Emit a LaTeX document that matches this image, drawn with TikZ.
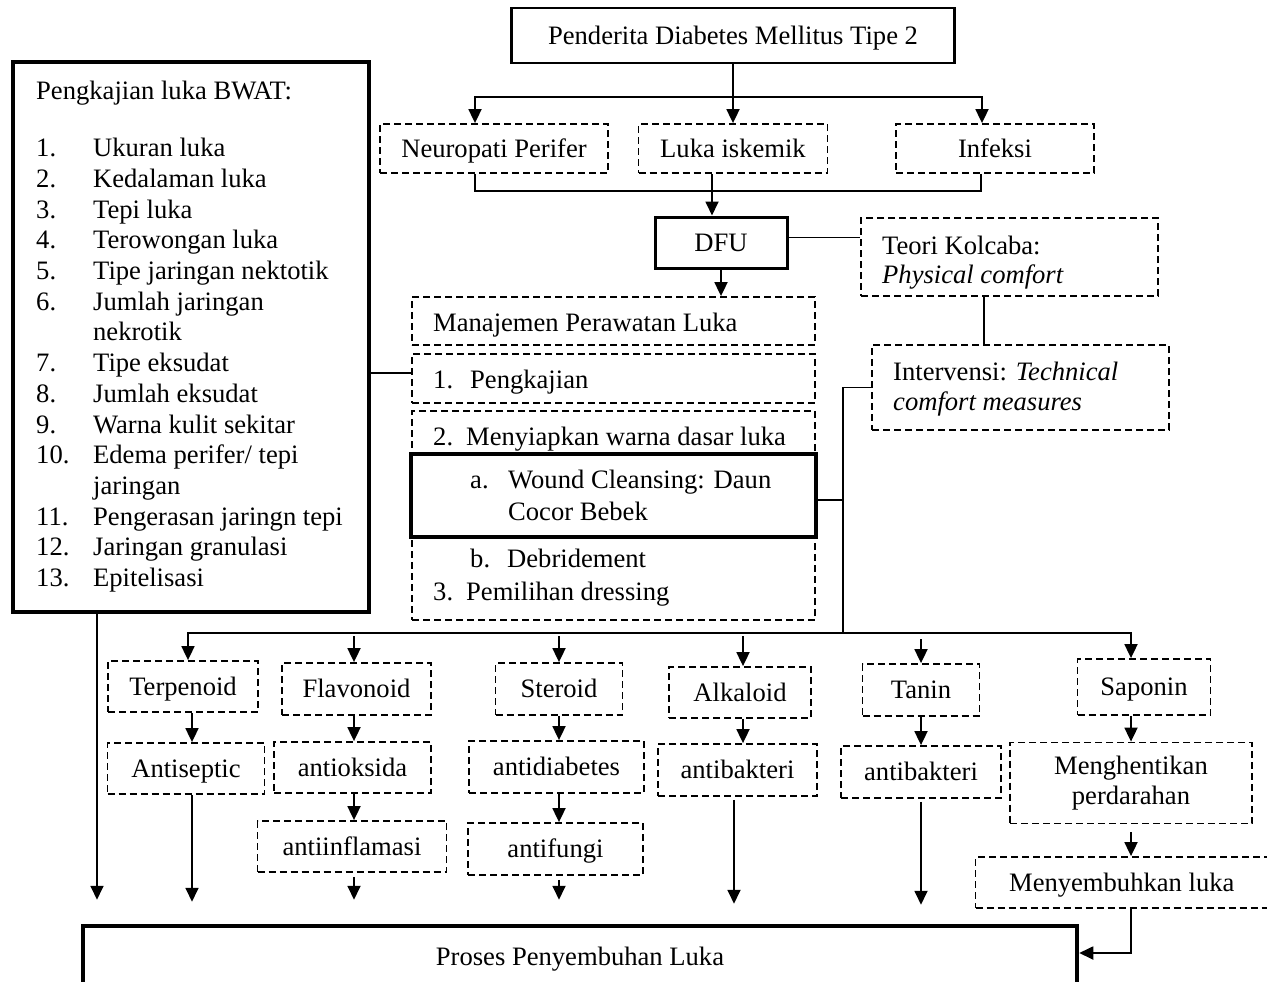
\documentclass[tikz,border=0pt]{standalone}
\usepackage{fontspec}
\setmainfont{Liberation Serif}
\usetikzlibrary{arrows.meta}
\begin{document}
\begin{tikzpicture}[x=1pt,y=-1pt,font=\fontsize{26.6}{30.7}\selectfont,
  ln/.style={line width=1.8pt},
  arr/.style={line width=1.8pt,-{Triangle[length=14pt,width=13pt]}},
  boxbase/.style={inner sep=0pt,align=center},
  one/.style={text height=20pt,text depth=2.4pt},
  dboxs/.style={boxbase,draw,line width=1.8pt,dash pattern=on 7pt off 4pt},
  dbox/.style={dboxs,one},
  sbox/.style={boxbase,draw,one},
  txt/.style={inner sep=0pt,anchor=base west}]
\useasboundingbox (0,0) rectangle (1267,982);

% top part
\node[sbox,line width=2.4pt,minimum width=443pt,minimum height=55pt] (top) at (733,35.5) {Penderita Diabetes Mellitus Tipe 2};
\node[dbox,minimum width=228pt,minimum height=49pt] (np) at (494,148.5) {Neuropati Perifer};
\node[dbox,minimum width=189pt,minimum height=49pt] (li) at (733,148.5) {Luka iskemik};
\node[dbox,minimum width=198pt,minimum height=49pt] (inf) at (995,148.5) {Infeksi};
\node[sbox,line width=3pt,minimum width=132pt,minimum height=51pt] (dfu) at (721,242.5) {DFU};

\node[dbox,minimum width=297pt,minimum height=78pt] (teori) at (1009.5,257) {};
\node[txt] (teori1) at (882,254.5) {Teori Kolcaba:};
\node[txt] (teori2) at (882,283.5) {\itshape Physical comfort};
\node[dbox,minimum width=297pt,minimum height=85pt] (interv) at (1020.5,387.5) {};
\node[txt] (interv1) at (893,380.5) {Intervensi: \textit{Technical}};
\node[txt] (interv2) at (893,410.5) {\itshape comfort measures};

% wound management
\node[dbox,minimum width=403pt,minimum height=48pt] (man) at (613.5,321) {};
\node[txt] (mant) at (433,331.5) {Manajemen Perawatan Luka};
\node[dbox,minimum width=403pt,minimum height=49pt] (pen) at (613.5,378.5) {};
\node[txt] (pent) at (433,388.5) {\makebox[37pt][l]{1.}Pengkajian};
\node[dbox,minimum width=403pt,minimum height=209pt] (big) at (613.5,515.5) {};
\node[txt] (bigt1) at (433,445.5) {\makebox[33pt][l]{2.}Menyiapkan warna dasar luka};
\node[sbox,line width=4pt,fill=white,minimum width=405pt,minimum height=83pt] (wound) at (613.5,495.5) {};
\node[txt] (wa) at (470,488.5) {a.};
\node[txt] (wt1) at (508,488.5) {Wound Cleansing: Daun};
\node[txt] (wt2) at (508,520.5) {Cocor Bebek};
\node[txt] (wb) at (470,567.5) {b.};
\node[txt] (wbt) at (507,567.5) {Debridement};
\node[txt] (w3) at (433,600.5) {\makebox[33pt][l]{3.}Pemilihan dressing};

% BWAT box
\node[sbox,line width=4.5pt,minimum width=356pt,minimum height=550pt] (bwat) at (191,337) {};
\node[inner sep=0pt,anchor=north west] (bwatt) at (36,78.3) {%
\begin{tabular}{@{}p{57pt}@{}l@{}}
\multicolumn{2}{@{}l@{}}{Pengkajian luka BWAT:}\\[26.1pt]
1. & Ukuran luka\\
2. & Kedalaman luka\\
3. & Tepi luka\\
4. & Terowongan luka\\
5. & Tipe jaringan nektotik\\
6. & Jumlah jaringan\\
   & nekrotik\\
7. & Tipe eksudat\\
8. & Jumlah eksudat\\
9. & Warna kulit sekitar\\
10. & Edema perifer/ tepi\\
    & jaringan\\
11. & Pengerasan jaringn tepi\\
12. & Jaringan granulasi\\
13. & Epitelisasi
\end{tabular}};

% compounds
\node[dbox,minimum width=150pt,minimum height=51pt] (terp) at (183,686.5) {Terpenoid};
\node[dbox,minimum width=157pt,minimum height=51pt] (antis) at (186,768.5) {Antiseptic};
\node[dbox,minimum width=149pt,minimum height=52pt] (flav) at (356.5,689) {Flavonoid};
\node[dbox,minimum width=157pt,minimum height=51pt] (antiok) at (352.5,767.5) {antioksida};
\node[dbox,minimum width=189pt,minimum height=51pt] (antiinf) at (352,846.5) {antiinflamasi};
\node[dbox,minimum width=127pt,minimum height=52pt] (ster) at (559,689) {Steroid};
\node[dbox,minimum width=175pt,minimum height=52pt] (antid) at (556.5,767) {antidiabetes};
\node[dbox,minimum width=175pt,minimum height=52pt] (antif) at (555.5,849) {antifungi};
\node[dbox,minimum width=142pt,minimum height=51pt] (alk) at (740,692.5) {Alkaloid};
\node[dbox,minimum width=159pt,minimum height=52pt] (antib1) at (737.5,770) {antibakteri};
\node[dbox,minimum width=117pt,minimum height=52pt] (tanin) at (921,690) {Tanin};
\node[dbox,minimum width=160pt,minimum height=52pt] (antib2) at (921,772) {antibakteri};
\node[dbox,minimum width=133pt,minimum height=56pt] (sap) at (1144,687) {Saponin};
\node[dboxs,minimum width=242pt,minimum height=81pt] (meng) at (1131,783) {Menghentikan\\perdarahan};
\node[dbox,minimum width=292.5pt,minimum height=51pt] (meny) at (1121.75,882.5) {Menyembuhkan luka};

\node[sbox,line width=4.5pt,minimum width=994pt,minimum height=62pt] (proses) at (580,957) {Proses Penyembuhan Luka};

% connectors top
\coordinate (j1) at (733,97);
\draw[arr] (top.south) -- (li.north);
\draw[arr] (j1) -| ([xshift=-19pt]np.north);
\draw[arr] (j1) -| ([xshift=-13pt]inf.north);
\coordinate (j2) at (712,191);
\draw[ln] ([xshift=-19pt]np.south) |- (j2) -| ([xshift=-14pt]inf.south);
\draw[ln] ([xshift=-21pt]li.south) -- (j2);
\draw[arr] (j2) -- (j2 |- dfu.north);
\draw[ln] ([yshift=5pt]dfu.east) -- ([yshift=5pt]dfu.east -| teori.west);
\draw[ln] ([xshift=-25.5pt]teori.south) -- ([xshift=-25.5pt]teori.south |- interv.north);
\draw[arr] (dfu.south) -- (dfu.south |- man.north);
\draw[ln] ([yshift=5.5pt]pen.west) -- ([yshift=5.5pt]pen.west -| bwat.east);

% bar
\coordinate (j4) at (843,633);
\draw[ln] (interv.west) -| (j4);
\draw[ln] ([yshift=-4.5pt]wound.east) -- ([yshift=-4.5pt]wound.east -| j4);
\coordinate (c0) at (97,0);
\coordinate (c1) at (192,0);
\coordinate (c2) at (354,0);
\coordinate (c3) at (559,0);
\coordinate (c4) at (743,0);
\coordinate (c4b) at (734,0);
\coordinate (c5) at (921,0);
\coordinate (c6) at (1131,0);
\draw[arr] (j4) -| ([xshift=5pt]terp.north);
\draw[arr] (j4) -| (c6 |- sap.north);
\draw[arr] ([yshift=-3pt]c2 |- j4) -- (c2 |- flav.north);
\draw[arr] ([yshift=-3pt]c3 |- j4) -- (c3 |- ster.north);
\draw[arr] ([yshift=-3pt]c4 |- j4) -- (c4 |- alk.north);
\draw[arr] ([yshift=-6pt]c5 |- j4) -- (c5 |- tanin.north);

% columns
\draw[arr] (c0 |- bwat.south) -- ([yshift=24pt]c0 |- proses.north);
\draw[arr] (c1 |- terp.south) -- (c1 |- antis.north);
\draw[arr] (c1 |- antis.south) -- ([yshift=22pt]c1 |- proses.north);
\draw[arr] (c2 |- flav.south) -- (c2 |- antiok.north);
\draw[arr] (c2 |- antiok.south) -- (c2 |- antiinf.north);
\draw[arr] ([yshift=-4pt]c2 |- antiinf.south) -- ([yshift=24pt]c2 |- proses.north);
\draw[arr] (c3 |- ster.south) -- (c3 |- antid.north);
\draw[arr] (c3 |- antid.south) -- (c3 |- antif.north);
\draw[arr] ([yshift=-4pt]c3 |- antif.south) -- ([yshift=24pt]c3 |- proses.north);
\draw[arr] (c4 |- alk.south) -- (c4 |- antib1.north);
\draw[arr] ([yshift=-3pt]c4b |- antib1.south) -- ([yshift=20pt]c4b |- proses.north);
\draw[arr] (c5 |- tanin.south) -- (c5 |- antib2.north);
\draw[arr] ([yshift=-3pt]c5 |- antib2.south) -- ([yshift=19pt]c5 |- proses.north);
\draw[arr] (c6 |- sap.south) -- (c6 |- meng.north);
\draw[arr] ([yshift=-8pt]c6 |- meng.south) -- (c6 |- meny.north);
\draw[arr] (c6 |- meny.south) |- ([yshift=4pt]proses.east);
\end{tikzpicture}
\end{document}
